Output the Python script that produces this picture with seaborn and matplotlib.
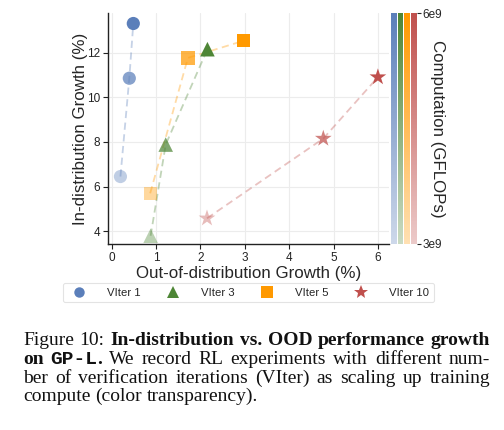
import numpy as np
import pandas as pd
import matplotlib
matplotlib.use("Agg")
import matplotlib.pyplot as plt
import seaborn as sns
from matplotlib.colors import LinearSegmentedColormap, Normalize, to_rgba
from matplotlib.cm import ScalarMappable
from matplotlib.lines import Line2D

# ---------------- data ----------------
series = ["VIter 1", "VIter 3", "VIter 5", "VIter 10"]
ood_v1 = [0.20, 0.40, 0.49]
ind_v1 = [6.45, 10.85, 13.30]
ood_v3 = [0.88, 1.22, 2.16]
ind_v3 = [3.80, 7.88, 12.15]
ood_v5 = [0.87, 1.72, 2.98]
ind_v5 = [5.70, 11.76, 12.53]
ood_v10 = [2.15, 4.77, 6.00]
ind_v10 = [4.58, 8.15, 10.90]
compute_levels = [3e9, 4.5e9, 6e9]
cbar_ticks = [3e9, 6e9]
cbar_ticklabels = ["3e9", "6e9"]

colors = {"VIter 1": "#5B7FBA", "VIter 3": "#4E8636", "VIter 5": "#FF9900", "VIter 10": "#C0504D"}
markers = {"VIter 1": "o", "VIter 3": "^", "VIter 5": "s", "VIter 10": "*"}
msizes = {"VIter 1": 90, "VIter 3": 110, "VIter 5": 92, "VIter 10": 160}
alphas = [0.38, 0.72, 1.0]

xs = {"VIter 1": ood_v1, "VIter 3": ood_v3, "VIter 5": ood_v5, "VIter 10": ood_v10}
ys = {"VIter 1": ind_v1, "VIter 3": ind_v3, "VIter 5": ind_v5, "VIter 10": ind_v10}

rows = []
for s in series:
    for i, (x, y) in enumerate(zip(xs[s], ys[s])):
        rows.append({"ood": x, "ind": y, "series": s, "step": i, "compute": compute_levels[i],
                     "key": f"{s}-{i}"})
df = pd.DataFrame(rows)

# ---------------- style ----------------
sns.set_theme(style="ticks")
plt.rcParams["font.family"] = ["Liberation Sans", "DejaVu Sans"]

W, H = 504, 430
fig = plt.figure(figsize=(W / 100, H / 100), dpi=100)

def fx(px):
    return px / W

def fy(py):
    return 1 - py / H

ax_l, ax_r, ax_t, ax_b = 108, 389, 13, 244
ax = fig.add_axes([fx(ax_l), fy(ax_b), fx(ax_r - ax_l), (ax_b - ax_t) / H])

# dashed connecting lines
for s in series:
    sub = df[df.series == s]
    sns.lineplot(data=sub, x="ood", y="ind", ax=ax, color=colors[s], alpha=0.35,
                 linestyle=(0, (4, 2.5)), linewidth=1.3, sort=False, legend=False, zorder=2)

# markers with transparency by compute
for s in series:
    sub = df[df.series == s]
    pal = {k: to_rgba(colors[s], alphas[i]) for i, k in enumerate(sub.key)}
    sns.scatterplot(data=sub, x="ood", y="ind", hue="key", palette=pal, marker=markers[s],
                    s=msizes[s], linewidth=0, ax=ax, legend=False, zorder=3)

ax.set_xlim(-0.08, 6.25)
ax.set_ylim(3.43, 13.77)
ax.set_xticks([0, 1, 2, 3, 4, 5, 6])
ax.set_yticks([4, 6, 8, 10, 12])
ax.grid(True, color="#ECECEC", linewidth=0.8)
ax.set_axisbelow(True)
for sp in ["top", "right"]:
    ax.spines[sp].set_visible(False)
for sp in ["left", "bottom"]:
    ax.spines[sp].set_color("#222222")
    ax.spines[sp].set_linewidth(1.0)
ax.tick_params(axis="both", labelsize=8.5, length=3.5, width=0.8, colors="#222222", pad=2)
ax.set_xlabel("Out-of-distribution Growth (%)", fontsize=12.2, labelpad=1.5)
ax.set_ylabel("In-distribution Growth (%)", fontsize=12.2, labelpad=-0.5)

# colorbars
norm = Normalize(vmin=3e9, vmax=6e9)
bar_x = [391, 397.5, 404, 410.5]
bar_w = 6.0
for j, s in enumerate(series):
    cmap = LinearSegmentedColormap.from_list(
        s, [to_rgba(colors[s], 0.3), to_rgba(colors[s], 1.0)])
    cax = fig.add_axes([fx(bar_x[j]), fy(ax_b), fx(bar_w), (ax_b - ax_t) / H])
    cb = fig.colorbar(ScalarMappable(norm=norm, cmap=cmap), cax=cax)
    cb.outline.set_visible(False)
    if j < 3:
        cb.set_ticks([])
    else:
        cb.set_ticks(cbar_ticks)
        cb.set_ticklabels(cbar_ticklabels)
        cax.tick_params(labelsize=8.5, length=3, width=0.8, pad=1.5)
        cb.set_label("Computation (GFLOPs)", rotation=270, fontsize=12.2, labelpad=2)

# legend
handles = [Line2D([], [], linestyle="none", marker=markers[s], color=colors[s],
                  markersize={"VIter 1": 7.5, "VIter 3": 8, "VIter 5": 8, "VIter 10": 10}[s],
                  markeredgewidth=0) for s in series]
leg = fig.legend(handles, series, loc="upper left", bbox_to_anchor=(fx(63), fy(283)),
                 ncol=4, fontsize=8.2, frameon=True, handletextpad=1.5, columnspacing=1.8,
                 borderpad=0.4, handlelength=2.0, borderaxespad=0)
leg.get_frame().set_edgecolor("#DDDDDD")
leg.get_frame().set_linewidth(0.8)

# caption (justified)
SER = ["Liberation Serif", "DejaVu Serif"]
MONO = ["Liberation Mono", "DejaVu Sans Mono"]
lines = [
    ([[("Figure", SER, "normal")], [("10:", SER, "normal")]] +
     [[(w, SER, "bold")] for w in "In-distribution vs. OOD performance growth".split()], True),
    ([[("on", SER, "bold")], [("GP-L", MONO, "bold"), (".", SER, "bold")]] +
     [[(w, SER, "normal")] for w in "We record RL experiments with different num-".split()], True),
    ([[(w, SER, "normal")] for w in "ber of verification iterations (VIter) as scaling up training".split()], True),
    ([[(w, SER, "normal")] for w in "compute (color transparency).".split()], False),
]
baselines = [345.3, 363.9, 382.6, 401.3]
x0, x1 = 23, 490
fig.canvas.draw()
renderer = fig.canvas.get_renderer()


def measure(txt, fam, wt, size):
    t = fig.text(0, 0, txt, family=fam, weight=wt, size=size)
    w = t.get_window_extent(renderer).width
    t.remove()
    return w

# choose a caption size so that the first line nearly fills the text width
base = 12.3
nat = sum(measure(p[0], p[1], p[2], base) for w in lines[0][0] for p in w)
sp = measure("a a", SER, "normal", base) - measure("aa", SER, "normal", base)
nat_line = nat + sp * (len(lines[0][0]) - 1)
cap_size = min(14.0, max(12.0, base * (x1 - x0 - 4) / nat_line))
space_w = measure("a a", SER, "normal", cap_size) - measure("aa", SER, "normal", cap_size)

for (words, justify), yb in zip(lines, baselines):
    word_items = []
    total = 0
    for w in words:
        pieces = []
        wsum = 0
        for (txt, fam, wt) in w:
            t = fig.text(0, fy(yb), txt, family=fam, weight=wt, size=cap_size,
                         ha="left", va="baseline", color="#111111")
            wd = t.get_window_extent(renderer).width
            pieces.append((t, wd))
            wsum += wd
        word_items.append((pieces, wsum))
        total += wsum
    n = len(word_items)
    gap = (x1 - x0 - total) / (n - 1) if justify else space_w
    xc = x0
    for pieces, wsum in word_items:
        xp = xc
        for t, wd in pieces:
            t.set_x(fx(xp))
            xp += wd
        xc += wsum + gap

fig.savefig("out.png", dpi=100)
